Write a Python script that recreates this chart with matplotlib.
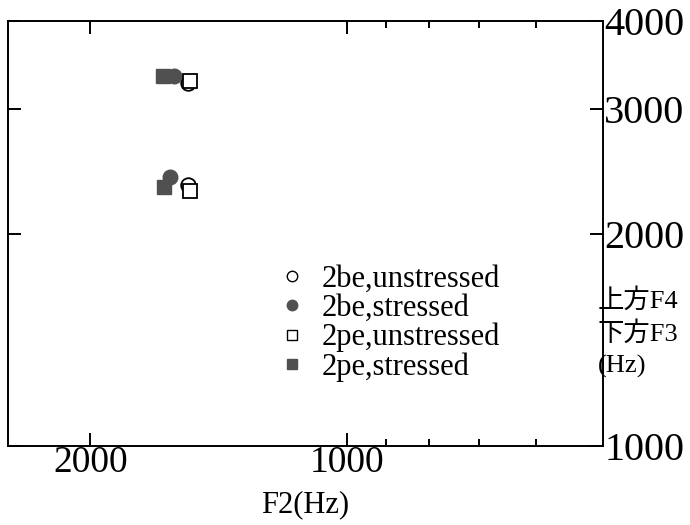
import matplotlib
matplotlib.use("Agg")
import matplotlib.pyplot as plt
from matplotlib.ticker import FixedLocator, NullFormatter, NullLocator

plt.rcParams["font.family"] = ["Liberation Serif", "Noto Sans CJK JP"]

# --- Data --------------------------------------------------------------------
# Each series: F2 values and the matching F4 (upper) / F3 (lower) values
f2_be_unstr = [1537, 1537]
fx_be_unstr = [3270, 2343]
f2_be_str = [1596, 1613]
fx_be_str = [3343, 2405]
f2_pe_unstr = [1530, 1530]
fx_pe_unstr = [3290, 2297]
f2_pe_str = [1645, 1638]
fx_pe_str = [3343, 2327]

labels = ["2be,unstressed", "2be,stressed", "2pe,unstressed", "2pe,stressed"]
x_major = [2000, 1000]
x_minor = [900, 800, 700, 600]
y_major = [1000, 2000, 3000, 4000]
ylabel_lines = ["上方F4", "下方F3", "(Hz)"]

GRAY = "#505050"

# --- Plot ---------------------------------------------------------------------
fig = plt.figure(figsize=(6.9, 5.25), dpi=100)
ax = fig.add_axes([8 / 690, 1 - 446 / 525, 595 / 690, 425 / 525])

ms = 10.5
ax.plot(f2_be_unstr, fx_be_unstr, "o", ms=ms, mfc="white", mec="black", mew=1.3, ls="none")
ax.plot(f2_be_str, fx_be_str, "o", ms=ms, mfc=GRAY, mec=GRAY, ls="none")
ax.plot(f2_pe_unstr, fx_pe_unstr, "s", ms=ms, mfc="white", mec="black", mew=1.3, ls="none")
ax.plot(f2_pe_str, fx_pe_str, "s", ms=ms, mfc=GRAY, mec=GRAY, ls="none")

ax.set_xscale("log")
ax.set_yscale("log")
ax.set_xlim(2500, 500)
ax.set_ylim(1000, 4000)

ax.xaxis.set_major_locator(FixedLocator(x_major))
ax.xaxis.set_minor_locator(FixedLocator(x_minor))
ax.xaxis.set_minor_formatter(NullFormatter())
ax.set_xticklabels([str(v) for v in x_major])
ax.yaxis.set_major_locator(FixedLocator(y_major))
ax.yaxis.set_minor_locator(NullLocator())
ax.set_yticklabels([str(v) for v in y_major])

ax.tick_params(which="both", direction="in", top=True, bottom=True, left=True, right=True,
               labelleft=False, labelright=True, width=1.4, colors="black")
ax.tick_params(which="major", length=9.5)
ax.tick_params(which="minor", length=5)
ax.tick_params(axis="x", labelsize=27, pad=0)
ax.tick_params(axis="y", labelsize=29, pad=1)
for sp in ax.spines.values():
    sp.set_linewidth(1.4)

# legend
leg_handles = []
for h in ax.get_lines():
    lh, = plt.plot([], [], marker=h.get_marker(), ms=7.5, mfc=h.get_mfc(), mec=h.get_mec(),
                   mew=1.0, ls="none")
    leg_handles.append(lh)
ax.legend(leg_handles, labels, loc="upper left", bbox_to_anchor=(277 / 690, 1 - 265 / 525),
          bbox_transform=fig.transFigure, frameon=False, fontsize=22, borderpad=0,
          borderaxespad=0, handlelength=1.0, handletextpad=0.47, labelspacing=0.0)

# axis labels
fig.text(305 / 690, 1 - 505 / 525, "F2(Hz)", fontsize=22, ha="center", va="center")
for i, line in enumerate(ylabel_lines):
    fig.text(598 / 690, 1 - (300 + i * 33) / 525, line, fontsize=19, ha="left", va="center")

fig.savefig("out.png", dpi=100)
